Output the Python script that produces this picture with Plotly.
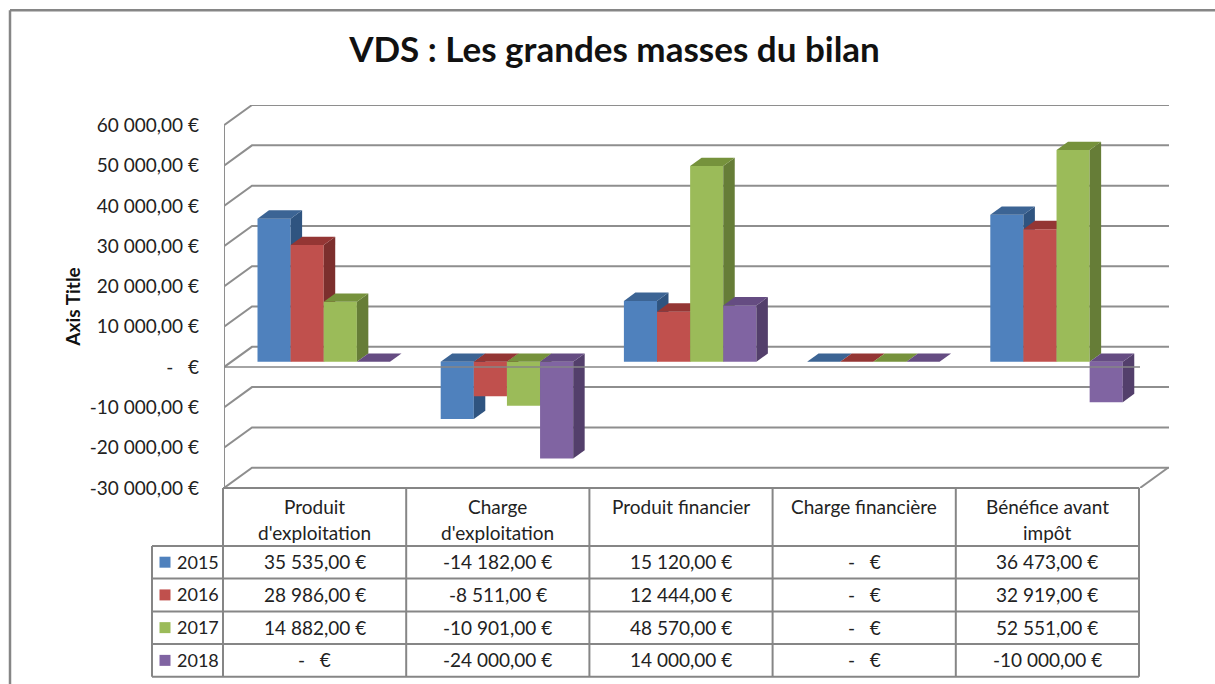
import plotly.graph_objects as go

categories = ["Produit<br>d'exploitation", "Charge<br>d'exploitation", "Produit financier", "Charge financière", "Bénéfice avant<br>impôt"]
years = ["2015", "2016", "2017", "2018"]
v2015 = [35535, -14182, 15120, 0, 36473]
v2016 = [28986, -8511, 12444, 0, 32919]
v2017 = [14882, -10901, 48570, 0, 52551]
v2018 = [0, -24000, 14000, 0, -10000]
series = [v2015, v2016, v2017, v2018]
tick_values = [-30000, -20000, -10000, 0, 10000, 20000, 30000, 40000, 50000, 60000]

front_colors = ["#4f81bd", "#c0504d", "#9bbb59", "#8064a2"]
top_colors = ["#3c6494", "#943634", "#76923c", "#654c82"]
side_colors = ["#2f5480", "#7c2f2d", "#667d37", "#533f6b"]
FONT = "Lato"
TXT = "#222222"
GRID = "#8e8e8e"
LINE = "#868686"
TEXT_SIZE = 19

# page geometry (pixels)
W, H = 1215, 684
L, R, T, B = 224, 1169, 104.7, 488
COL = 183.2
PX_PER_UNIT = 40.33 / 10000
DX, DY = 28, 20.3            # depth of the 3D box
ymax = -30000 + (B - T) / PX_PER_UNIT
xmax = (R - L) / COL


def fmt(v):
    if v == 0:
        return "-\u00a0\u00a0\u00a0€"
    s = f"{abs(v):,.2f}".replace(",", " ").replace(".", ",")
    return ("-" if v < 0 else "") + s + " €"


def pt(cat, val, depth):
    """Oblique projection: category position, value and depth to axis coordinates."""
    return cat + depth * DX / COL, val + depth * DY / PX_PER_UNIT


def px(x):
    return (x - L) / (R - L)


def py(y):
    return (B - y) / (B - T)


fig = go.Figure()

# back wall and left wall
gx, gy = [], []
for v in tick_values:
    a = pt(0, v, 0)
    b = pt(0, v, 1)
    c = pt(xmax - DX / COL, v, 1)
    gx += [a[0], b[0], c[0], None]
    gy += [a[1], b[1], c[1], None]
e = pt(5, tick_values[0], 0)
f = pt(5, tick_values[0], 1)
gx += [e[0], f[0], None, 0, 0]
gy += [e[1], f[1], None, tick_values[0], tick_values[-1]]
fig.add_trace(go.Scatter(x=gx, y=gy, mode="lines", line=dict(color=GRID, width=2),
                         cliponaxis=False, hoverinfo="skip", showlegend=False, zorder=0))

BAR = 0.1808
START = 0.1431
D0, D1 = 0.26, 0.67
for s, vals in enumerate(series):
    z = 10 + 10 * s
    xs = [c + START + s * BAR + D0 * DX / COL for c in range(5)]
    fig.add_trace(go.Bar(x=xs, y=vals, base=[D0 * DY / PX_PER_UNIT] * 5, width=BAR, offset=0,
                         name=years[s], marker=dict(color=front_colors[s], line=dict(width=0)),
                         showlegend=False, zorder=z))
    for c, v in enumerate(vals):
        x0 = c + START + s * BAR
        x1 = x0 + BAR
        hi = max(v, 0)
        # side face
        pts = [pt(x1, hi, D0), pt(x1, hi, D1), pt(x1, min(v, 0), D1), pt(x1, min(v, 0), D0), pt(x1, hi, D0)]
        fig.add_trace(go.Scatter(x=[p[0] for p in pts], y=[p[1] for p in pts], mode="lines",
                                 fill="toself", fillcolor=side_colors[s], line=dict(width=0),
                                 hoverinfo="skip", showlegend=False, zorder=z + 1))
        # top face
        pts = [pt(x0, hi, D0), pt(x0, hi, D1), pt(x1, hi, D1), pt(x1, hi, D0), pt(x0, hi, D0)]
        fig.add_trace(go.Scatter(x=[p[0] for p in pts], y=[p[1] for p in pts], mode="lines",
                                 fill="toself", fillcolor=top_colors[s], line=dict(width=0),
                                 hoverinfo="skip", showlegend=False, zorder=z + 2))

# front zero line passes in front of the bars
fig.add_trace(go.Scatter(x=[0, 5], y=[0, 0], mode="lines", line=dict(color=LINE, width=1.5),
                         hoverinfo="skip", showlegend=False, zorder=100))

shapes, notes = [], []


def seg(x0, y0, x1, y1, width=2):
    shapes.append(dict(type="line", xref="paper", yref="paper", x0=px(x0), y0=py(y0), x1=px(x1), y1=py(y1),
                       line=dict(color=LINE, width=width), layer="above"))


def txt(x, y, t, anchor="center", size=TEXT_SIZE):
    notes.append(dict(xref="paper", yref="paper", x=px(x), y=py(y), text=t, showarrow=False,
                      xanchor=anchor, yanchor="middle", font=dict(family=FONT, size=size, color=TXT)))


# data table
col_x = [L - 1 + i * COL for i in range(6)]
row_y = [546, 578.5, 611.5, 644, 677]
LEFT = 152
seg(col_x[0], B, col_x[5], B)
seg(col_x[0], row_y[0], col_x[5], row_y[0])
for y in row_y[1:]:
    seg(LEFT, y, col_x[5], y)
seg(LEFT, row_y[0], col_x[0], row_y[0])
seg(LEFT, row_y[0], LEFT, row_y[-1])
for x in col_x:
    seg(x, B, x, row_y[-1])

for c, label in enumerate(categories):
    cx = (col_x[c] + col_x[c + 1]) / 2
    for n, line in enumerate(label.split("<br>")):
        txt(cx, 507 + 26 * n, line)
    for s, vals in enumerate(series):
        txt(cx, (row_y[s] + row_y[s + 1]) / 2 - 0.5, fmt(vals[c]))

for s, y in enumerate(years):
    cy = (row_y[s] + row_y[s + 1]) / 2
    shapes.append(dict(type="rect", xref="paper", yref="paper", x0=px(159.5), x1=px(170.5), y0=py(cy - 5.5), y1=py(cy + 5.5),
                       fillcolor=front_colors[s], line=dict(width=0)))
    txt(174.5, cy - 0.5, y, "left", 18)

# chart frame
seg(10, 10, 10, H + 5, 2.5)
seg(10, 10, W + 5, 10, 2.5)

# axis title, centred on the axis as in the reference
notes.append(dict(xref="paper", yref="paper", x=px(73), y=py(307.5), text="<b>Axis Title</b>", textangle=-90,
                  showarrow=False, xanchor="center", yanchor="middle",
                  font=dict(family=FONT, size=19, color="#111111")))

fig.update_layout(
    width=W, height=H, margin=dict(l=L, r=W - R, t=T, b=H - B, pad=0, autoexpand=False),
    paper_bgcolor="white", plot_bgcolor="white", barmode="overlay", showlegend=False,
    title=dict(text="<b>VDS : Les grandes masses du bilan</b>", x=614.5 / W, xref="container", xanchor="center",
               y=1 - 50 / H, yref="container", yanchor="middle",
               font=dict(family=FONT, size=35, color="#111111")),
    xaxis=dict(range=[0, xmax], visible=False, fixedrange=True),
    yaxis=dict(range=[-30000, ymax], tickmode="array", tickvals=tick_values, ticktext=[fmt(v) for v in tick_values],
               showgrid=False, zeroline=False, showline=False, ticks="", ticklabelstandoff=24, automargin=False,
               tickfont=dict(family=FONT, size=TEXT_SIZE, color=TXT), fixedrange=True),
    shapes=shapes, annotations=notes,
)

fig.write_html("out.html", post_script="document.body.style.margin='0';document.documentElement.style.overflow='hidden';",
               config=dict(displayModeBar=False))
